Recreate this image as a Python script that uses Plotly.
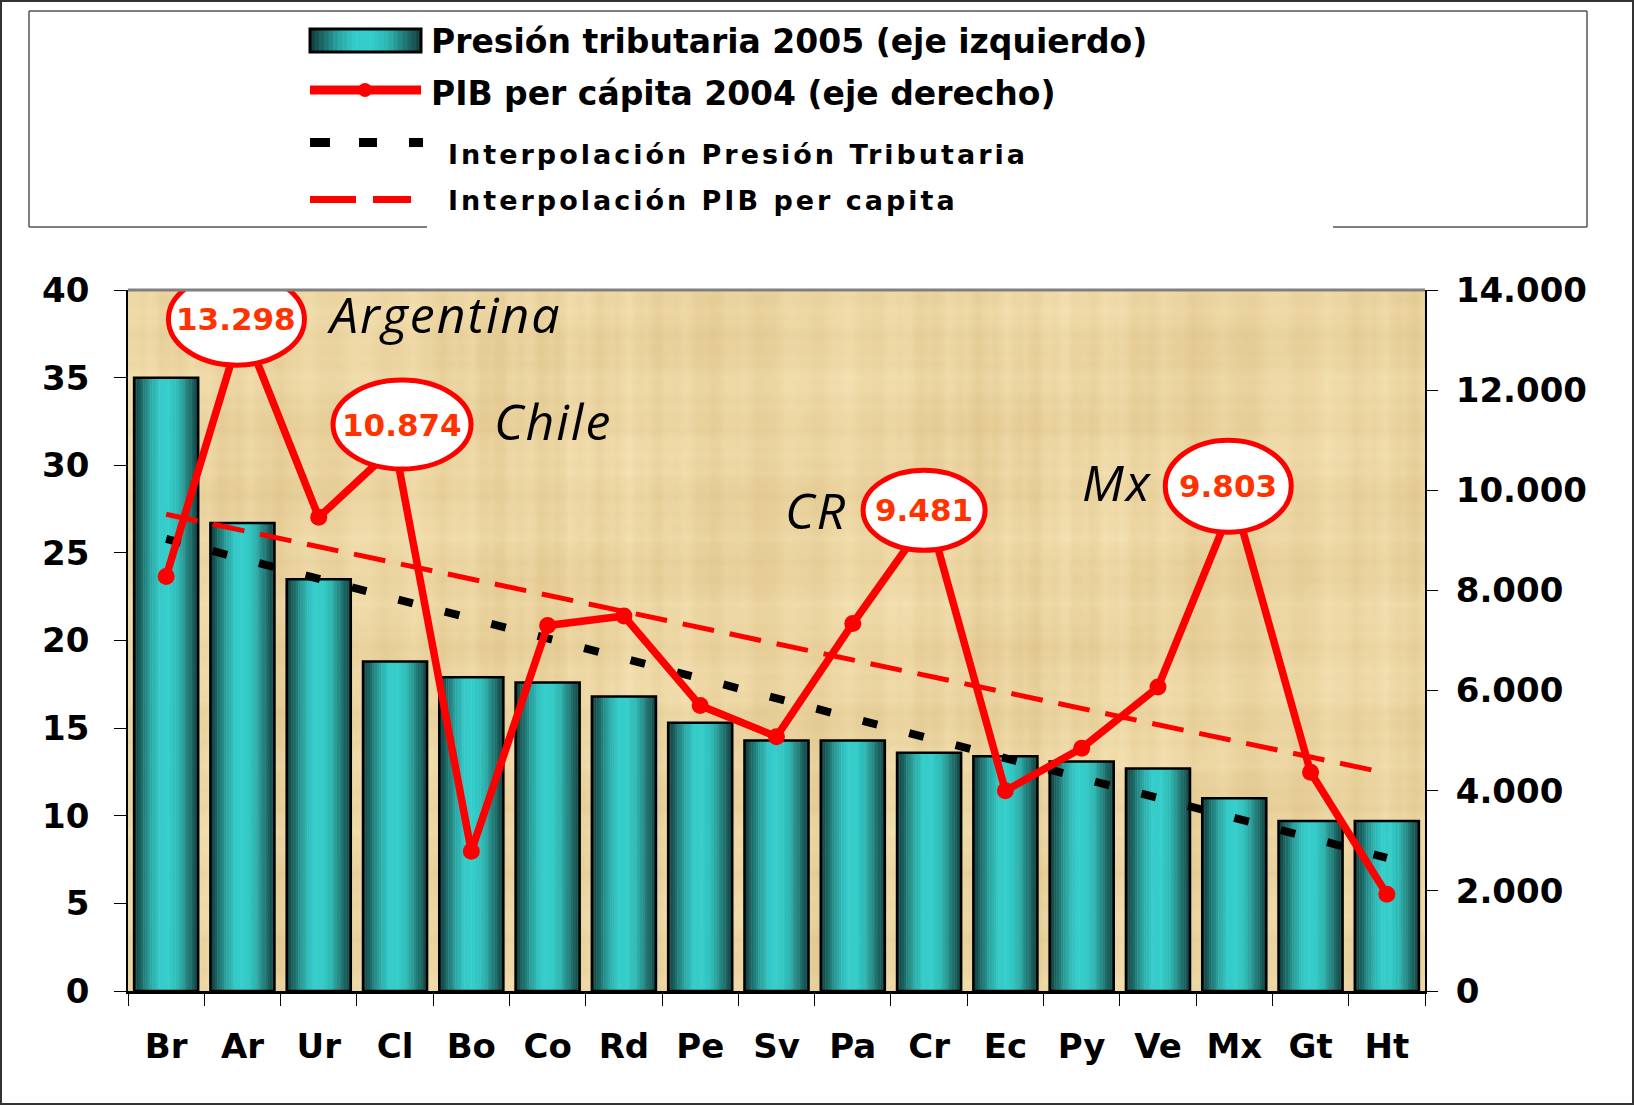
import base64, struct, zlib, math
import plotly.graph_objects as go

# ---------------- data ----------------
cats = ["Br", "Ar", "Ur", "Cl", "Bo", "Co", "Rd", "Pe", "Sv", "Pa", "Cr", "Ec", "Py", "Ve", "Mx", "Gt", "Ht"]
presion = [35.0, 26.7, 23.5, 18.8, 17.9, 17.6, 16.8, 15.3, 14.3, 14.3, 13.6, 13.4, 13.1, 12.7, 11.0, 9.7, 9.7]
pib = [8280, 13298, 9460, 10874, 2790, 7300, 7490, 5700, 5080, 7340, 9481, 4000, 4850, 6070, 9803, 4370, 1930]
trend_presion = [25.8, 7.6]      # read at first and last category
trend_pib = [9520, 4350]
highlight_cats = ["Ar", "Cl", "Cr", "Mx"]
highlight_names = ["Argentina", "Chile", "CR", "Mx"]
left_ticks = [0, 5, 10, 15, 20, 25, 30, 35, 40]
right_ticks = [0, 2000, 4000, 6000, 8000, 10000, 12000, 14000]

# ---------------- geometry helpers ----------------
W, H = 1634, 1105
L, R, T, B = 128, 209, 290, 114
PW, PH = W - L - R, H - T - B


def px(x):
    return (x - L) / PW


def py(y):
    return (H - B - y) / PH


# ---------------- texture (style only) ----------------
def papyrus_png(w=216, h=117):
    dark = (220, 190, 130)
    light = (247, 230, 184)
    rows = []
    for y in range(h):
        row = bytearray([0])
        ry = 0.5 * math.sin(0.5 * y + 0.3) + 0.3 * math.sin(2.3 * y + 1.7) + 0.2 * math.sin(5.1 * y)
        for x in range(w):
            cx = 0.5 * math.sin(0.7 * x) + 0.3 * math.sin(1.9 * x + 1) + 0.2 * math.sin(4.3 * x + 2)
            blob = math.sin(0.11 * x + 0.07 * y) * math.sin(0.09 * y - 0.05 * x)
            t = 0.57 + 0.17 * cx + 0.13 * ry + 0.12 * blob
            t = max(0.0, min(1.0, t))
            row += bytes(int(dark[i] + (light[i] - dark[i]) * t) for i in range(3))
        rows.append(bytes(row))
    raw = b"".join(rows)

    def chunk(tag, data):
        c = struct.pack(">I", len(data)) + tag + data
        return c + struct.pack(">I", zlib.crc32(tag + data) & 0xffffffff)

    png = b"\x89PNG\r\n\x1a\n" + chunk(b"IHDR", struct.pack(">IIBBBBB", w, h, 8, 2, 0, 0, 0))
    png += chunk(b"IDAT", zlib.compress(raw, 9)) + chunk(b"IEND", b"")
    return "data:image/png;base64," + base64.b64encode(png).decode()


# bar gradient stops (style)
grad_stops = [(0.0, (16, 58, 58)), (0.10, (26, 100, 98)), (0.25, (42, 165, 162)), (0.40, (51, 204, 202)),
              (0.55, (51, 206, 204)), (0.70, (46, 182, 179)), (0.85, (33, 122, 119)), (1.0, (18, 62, 61))]


def grad_color(t):
    for (t0, c0), (t1, c1) in zip(grad_stops[:-1], grad_stops[1:]):
        if t0 <= t <= t1:
            f = (t - t0) / (t1 - t0)
            return "rgb(%d,%d,%d)" % tuple(int(c0[i] + (c1[i] - c0[i]) * f) for i in range(3))
    return "rgb(%d,%d,%d)" % grad_stops[-1][1]


fig = go.Figure()

BAR_W = 0.84
N = 28
sw = BAR_W / N
for k in range(N):
    fig.add_trace(go.Bar(x=cats, y=presion, width=sw * 1.15, offset=-BAR_W / 2 + k * sw,
                         marker=dict(color=grad_color((k + 0.5) / N), line=dict(width=0)),
                         showlegend=False, hoverinfo="skip"))
fig.add_trace(go.Bar(x=cats, y=presion, width=BAR_W, offset=-BAR_W / 2,
                     marker=dict(color="rgba(0,0,0,0)", line=dict(color="black", width=2.5)),
                     name="Presión tributaria 2005 (eje izquierdo)", showlegend=False))

# trend lines
fig.add_trace(go.Scatter(x=[cats[0], cats[-1]], y=trend_presion, mode="lines",
                         line=dict(color="black", width=8, dash="15px,33px"),
                         name="Interpolación Presión Tributaria", showlegend=False))
fig.add_trace(go.Scatter(x=[cats[0], cats[-1]], y=trend_pib, mode="lines", yaxis="y2",
                         line=dict(color="#FF0000", width=5, dash="32px,16px"),
                         name="Interpolación PIB per capita", showlegend=False))
# PIB line
fig.add_trace(go.Scatter(x=cats, y=pib, mode="lines+markers", yaxis="y2",
                         line=dict(color="#FF0000", width=7.5),
                         marker=dict(color="#FF0000", size=17),
                         name="PIB per cápita 2004 (eje derecho)", showlegend=False))

shapes = []
annotations = []

# highlight ellipses (sizes / offsets are style)
ell_w = [136, 138, 122, 126]
ell_h = [92, 89, 80, 92]
ell_dx = [-6, 7, -5, -6]
ell_dy = [6, 22, 6, 14]
name_pos = [(444, 314), (553, 421), (816, 510), (1117, 482)]
for i, c in enumerate(highlight_cats):
    idx = cats.index(c)
    v = pib[idx]
    shapes.append(dict(type="circle", xref="x", yref="y2", xsizemode="pixel", ysizemode="pixel",
                       xanchor=idx, yanchor=v,
                       x0=ell_dx[i] - ell_w[i] / 2, x1=ell_dx[i] + ell_w[i] / 2,
                       y0=ell_dy[i] - ell_h[i] / 2, y1=ell_dy[i] + ell_h[i] / 2,
                       fillcolor="white", line=dict(color="#FF0000", width=5), layer="above"))
    annotations.append(dict(xref="x", yref="y2", x=c, y=v, xshift=ell_dx[i], yshift=ell_dy[i],
                            text=f"{v:,}".replace(",", "."), showarrow=False,
                            font=dict(family="DejaVu Sans", size=31, color="#FF3300", weight="bold")))
    annotations.append(dict(xref="paper", yref="paper", x=px(name_pos[i][0]), y=py(name_pos[i][1]),
                            text="<span style='letter-spacing:2px'>%s</span>" % highlight_names[i],
                            showarrow=False, xanchor="center", yanchor="middle",
                            font=dict(family="Open Sans", size=50, color="black", style="italic")))

# top border of plot area
shapes.append(dict(type="line", xref="paper", yref="paper", x0=0, x1=1, y0=1, y1=1,
                   line=dict(color="#808080", width=3), layer="above"))

# outer frame
shapes.append(dict(type="rect", xref="paper", yref="paper", x0=px(1), x1=px(W - 1), y0=py(1), y1=py(H - 1),
                   line=dict(color="#333333", width=2), fillcolor="rgba(0,0,0,0)"))

# legend box (bottom edge interrupted as in the original)
lb = dict(color="#555555", width=1.5)
shapes += [
    dict(type="line", xref="paper", yref="paper", x0=px(29), x1=px(1587), y0=py(11), y1=py(11), line=lb),
    dict(type="line", xref="paper", yref="paper", x0=px(29), x1=px(29), y0=py(11), y1=py(227), line=lb),
    dict(type="line", xref="paper", yref="paper", x0=px(1587), x1=px(1587), y0=py(11), y1=py(227), line=lb),
    dict(type="line", xref="paper", yref="paper", x0=px(29), x1=px(427), y0=py(227), y1=py(227), line=lb),
    dict(type="line", xref="paper", yref="paper", x0=px(1333), x1=px(1587), y0=py(227), y1=py(227), line=lb),
]
# legend symbol: gradient bar
nl = 24
x0s, x1s = 310, 421
for k in range(nl):
    a = x0s + (x1s - x0s) * k / nl
    b = x0s + (x1s - x0s) * (k + 1) / nl + 0.6
    shapes.append(dict(type="rect", xref="paper", yref="paper", x0=px(a), x1=px(b), y0=py(29), y1=py(52),
                       fillcolor=grad_color((k + 0.5) / nl), line=dict(width=0)))
shapes.append(dict(type="rect", xref="paper", yref="paper", x0=px(x0s), x1=px(x1s), y0=py(29), y1=py(52),
                   fillcolor="rgba(0,0,0,0)", line=dict(color="black", width=3)))
# legend symbol: red line with marker
shapes.append(dict(type="line", xref="paper", yref="paper", x0=px(310), x1=px(421), y0=py(90), y1=py(90),
                   line=dict(color="#FF0000", width=9)))
shapes.append(dict(type="circle", xref="paper", yref="paper", x0=px(358), x1=px(372), y0=py(83), y1=py(97),
                   fillcolor="#FF0000", line=dict(width=0)))
# legend symbol: black squares
for a, b in [(310, 330), (359, 377), (409, 423)]:
    shapes.append(dict(type="rect", xref="paper", yref="paper", x0=px(a), x1=px(b), y0=py(138), y1=py(147),
                       fillcolor="black", line=dict(width=0)))
# legend symbol: red dashes
for a, b in [(310, 356), (373, 411)]:
    shapes.append(dict(type="rect", xref="paper", yref="paper", x0=px(a), x1=px(b), y0=py(196), y1=py(203),
                       fillcolor="#FF0000", line=dict(width=0)))

leg_font_big = dict(family="DejaVu Sans", size=33, color="black", weight="bold")
leg_font_small = dict(family="DejaVu Sans", size=27, color="black", weight="bold")
annotations += [
    dict(xref="paper", yref="paper", x=px(429), y=py(41), xanchor="left", yanchor="middle", showarrow=False,
         text="Presión tributaria 2005 (eje izquierdo)", font=leg_font_big),
    dict(xref="paper", yref="paper", x=px(429), y=py(93), xanchor="left", yanchor="middle", showarrow=False,
         text="PIB per cápita 2004 (eje derecho)", font=leg_font_big),
    dict(xref="paper", yref="paper", x=px(446), y=py(154), xanchor="left", yanchor="middle", showarrow=False,
         text="<span style='letter-spacing:3px'>Interpolación Presión Tributaria</span>", font=leg_font_small),
    dict(xref="paper", yref="paper", x=px(446), y=py(200), xanchor="left", yanchor="middle", showarrow=False,
         text="<span style='letter-spacing:3px'>Interpolación PIB per capita</span>", font=leg_font_small),
]

tick_font = dict(family="DejaVu Sans", size=34, color="black", weight="bold")
fig.update_layout(
    width=W, height=H,
    margin=dict(l=L, r=R, t=T, b=B, autoexpand=False),
    paper_bgcolor="white",
    plot_bgcolor="#EBD29E",
    separators=",.",
    barmode="overlay",
    showlegend=False,
    shapes=shapes,
    annotations=annotations,
    images=[dict(source=papyrus_png(), xref="paper", yref="paper", x=0, y=1, sizex=1, sizey=1,
                 sizing="stretch", layer="below", xanchor="left", yanchor="top")],
    xaxis=dict(type="category", categoryorder="array", categoryarray=cats, range=[-0.5, len(cats) - 0.5],
               showline=True, linecolor="black", linewidth=3, ticks="outside", ticklen=12,
               tickcolor="black", tickwidth=1, tickson="boundaries", showgrid=False,
               tickfont=tick_font, ticklabelstandoff=23),
    yaxis=dict(range=[0, 40], tickvals=left_ticks, showline=True, linecolor="black", linewidth=1.5,
               ticks="outside", ticklen=12, tickcolor="black", tickwidth=1, showgrid=False, zeroline=False,
               tickfont=tick_font, ticklabelstandoff=18),
    yaxis2=dict(range=[0, 14000], tickvals=right_ticks, tickformat=",d", overlaying="y", side="right",
                showline=True, linecolor="black", linewidth=2, ticks="outside", ticklen=11, tickcolor="black",
                tickwidth=1, showgrid=False, zeroline=False, tickfont=tick_font, ticklabelstandoff=11),
)

fig.write_html("out.html", config={"displayModeBar": False},
               post_script="document.body.style.margin='0';document.body.style.overflow='hidden';")
